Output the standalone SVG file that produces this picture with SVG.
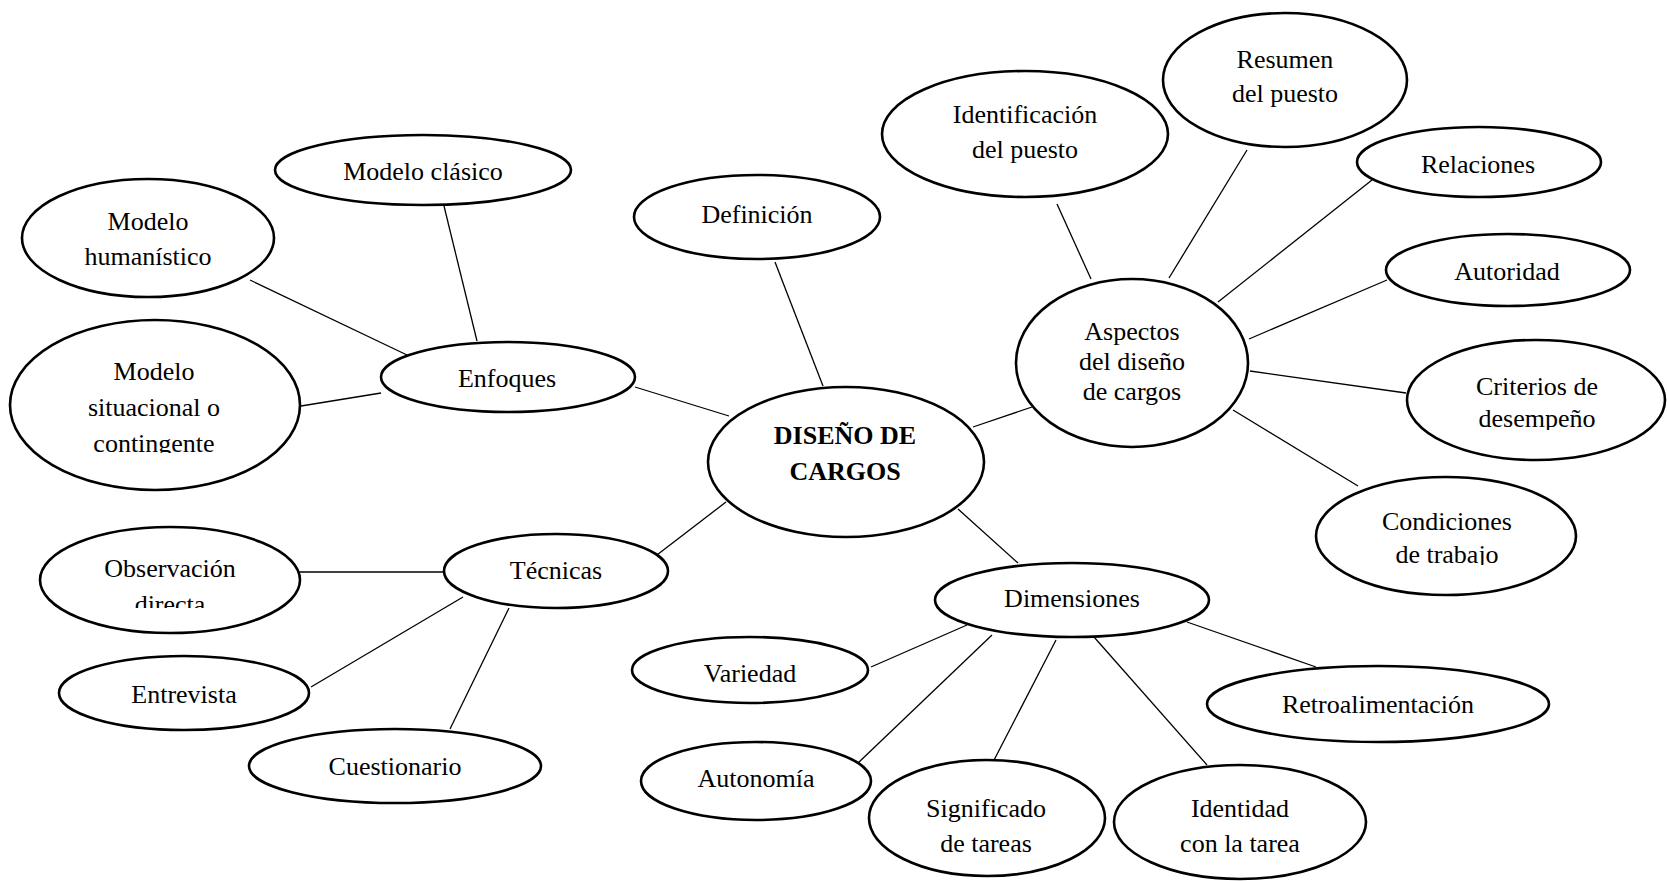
<svg xmlns="http://www.w3.org/2000/svg" width="1667" height="881" viewBox="0 0 1667 881">
  <style>
    .node { fill: #ffffff; stroke: #000000; stroke-width: 2.6; }
    .link { stroke: #000000; stroke-width: 1.3; fill: none; }
    text { font-family: "Liberation Serif", "Times New Roman", serif; font-size: 26px; fill: #000000; text-anchor: middle; }
    .title { font-weight: bold; }
  </style>
  <defs>
    <clipPath id="clip-contingente"><rect x="0" y="300" width="320" height="153"/></clipPath>
    <clipPath id="clip-directa"><rect x="30" y="520" width="280" height="88"/></clipPath>
    <clipPath id="clip-desempeno"><rect x="1400" y="340" width="267" height="90"/></clipPath>
    <clipPath id="clip-trabajo"><rect x="1310" y="470" width="280" height="95"/></clipPath>
    <clipPath id="clip-tareas"><rect x="860" y="760" width="260" height="94"/></clipPath>
  </defs>
  <rect x="0" y="0" width="1667" height="881" fill="#ffffff"/>

  <!-- connectors -->
  <g id="connectors">
    <line class="link" x1="823" y1="386" x2="775" y2="262"/>
    <line class="link" x1="729" y1="416" x2="635" y2="387"/>
    <line class="link" x1="726" y1="502" x2="653" y2="558"/>
    <line class="link" x1="973" y1="427" x2="1032" y2="407"/>
    <line class="link" x1="958" y1="509" x2="1018" y2="563"/>
    <line class="link" x1="444" y1="206" x2="477" y2="341"/>
    <line class="link" x1="250" y1="280" x2="407" y2="355"/>
    <line class="link" x1="301" y1="406" x2="381" y2="393"/>
    <line class="link" x1="299" y1="572" x2="443" y2="572"/>
    <line class="link" x1="463" y1="597" x2="311" y2="687"/>
    <line class="link" x1="509" y1="608" x2="450" y2="729"/>
    <line class="link" x1="1057" y1="204" x2="1091" y2="279"/>
    <line class="link" x1="1247" y1="150" x2="1169" y2="278"/>
    <line class="link" x1="1372" y1="180" x2="1218" y2="302"/>
    <line class="link" x1="1387" y1="280" x2="1249" y2="339"/>
    <line class="link" x1="1406" y1="393" x2="1250" y2="371"/>
    <line class="link" x1="1233" y1="410" x2="1358" y2="486"/>
    <line class="link" x1="967" y1="625" x2="871" y2="667"/>
    <line class="link" x1="992" y1="635" x2="858" y2="763"/>
    <line class="link" x1="1056" y1="640" x2="992" y2="764"/>
    <line class="link" x1="1094" y1="637" x2="1207" y2="765"/>
    <line class="link" x1="1187" y1="622" x2="1316" y2="667"/>
  </g>

  <!-- central node -->
  <g id="n-diseno">
    <ellipse class="node" cx="846" cy="462" rx="138" ry="75"/>
    <text class="title" x="845" y="444">DISEÑO DE</text>
    <text class="title" x="845" y="480">CARGOS</text>
  </g>

  <g id="n-definicion">
    <ellipse class="node" cx="757" cy="217" rx="123" ry="42"/>
    <text x="757" y="223">Definición</text>
  </g>

  <!-- Enfoques branch -->
  <g id="n-enfoques">
    <ellipse class="node" cx="508" cy="377" rx="127" ry="35"/>
    <text x="507" y="387">Enfoques</text>
  </g>
  <g id="n-clasico">
    <ellipse class="node" cx="423" cy="170" rx="148" ry="35"/>
    <text x="423" y="180">Modelo clásico</text>
  </g>
  <g id="n-humanistico">
    <ellipse class="node" cx="148" cy="238" rx="126" ry="59"/>
    <text x="148" y="230">Modelo</text>
    <text x="148" y="265">humanístico</text>
  </g>
  <g id="n-situacional">
    <ellipse class="node" cx="155" cy="405" rx="145" ry="85"/>
    <text x="154" y="380">Modelo</text>
    <text x="154" y="416">situacional o</text>
    <text x="154" y="452" clip-path="url(#clip-contingente)">contingente</text>
  </g>

  <!-- Técnicas branch -->
  <g id="n-tecnicas">
    <ellipse class="node" cx="556" cy="571" rx="112" ry="37"/>
    <text x="556" y="579">Técnicas</text>
  </g>
  <g id="n-observacion">
    <ellipse class="node" cx="170" cy="580" rx="130" ry="53"/>
    <text x="170" y="577">Observación</text>
    <text x="170" y="613" clip-path="url(#clip-directa)">directa</text>
  </g>
  <g id="n-entrevista">
    <ellipse class="node" cx="184" cy="693" rx="125" ry="37"/>
    <text x="184" y="703">Entrevista</text>
  </g>
  <g id="n-cuestionario">
    <ellipse class="node" cx="395" cy="766" rx="146" ry="37"/>
    <text x="395" y="775">Cuestionario</text>
  </g>

  <!-- Aspectos branch -->
  <g id="n-aspectos">
    <ellipse class="node" cx="1132" cy="363" rx="116" ry="84"/>
    <text x="1132" y="340">Aspectos</text>
    <text x="1132" y="370">del diseño</text>
    <text x="1132" y="400">de cargos</text>
  </g>
  <g id="n-identificacion">
    <ellipse class="node" cx="1025" cy="134" rx="143" ry="63"/>
    <text x="1025" y="123">Identificación</text>
    <text x="1025" y="158">del puesto</text>
  </g>
  <g id="n-resumen">
    <ellipse class="node" cx="1285" cy="80" rx="122" ry="67"/>
    <text x="1285" y="68">Resumen</text>
    <text x="1285" y="102">del puesto</text>
  </g>
  <g id="n-relaciones">
    <ellipse class="node" cx="1479" cy="162" rx="122" ry="35"/>
    <text x="1478" y="173">Relaciones</text>
  </g>
  <g id="n-autoridad">
    <ellipse class="node" cx="1508" cy="270" rx="122" ry="36"/>
    <text x="1507" y="280">Autoridad</text>
  </g>
  <g id="n-criterios">
    <ellipse class="node" cx="1536" cy="400" rx="129" ry="60"/>
    <text x="1537" y="395">Criterios de</text>
    <text x="1537" y="427" clip-path="url(#clip-desempeno)">desempeño</text>
  </g>
  <g id="n-condiciones">
    <ellipse class="node" cx="1446" cy="536" rx="130" ry="59"/>
    <text x="1447" y="530">Condiciones</text>
    <text x="1447" y="563" clip-path="url(#clip-trabajo)">de trabajo</text>
  </g>

  <!-- Dimensiones branch -->
  <g id="n-dimensiones">
    <ellipse class="node" cx="1072" cy="600" rx="137" ry="37"/>
    <text x="1072" y="607">Dimensiones</text>
  </g>
  <g id="n-variedad">
    <ellipse class="node" cx="750" cy="670" rx="118" ry="33"/>
    <text x="750" y="682">Variedad</text>
  </g>
  <g id="n-retroalimentacion">
    <ellipse class="node" cx="1378" cy="704" rx="171" ry="38"/>
    <text x="1378" y="713">Retroalimentación</text>
  </g>
  <g id="n-autonomia">
    <ellipse class="node" cx="756" cy="781" rx="115" ry="39"/>
    <text x="756" y="787">Autonomía</text>
  </g>
  <g id="n-significado">
    <ellipse class="node" cx="987" cy="818" rx="118" ry="58"/>
    <text x="986" y="817">Significado</text>
    <text x="986" y="852" clip-path="url(#clip-tareas)">de tareas</text>
  </g>
  <g id="n-identidad">
    <ellipse class="node" cx="1240" cy="822" rx="126" ry="57"/>
    <text x="1240" y="817">Identidad</text>
    <text x="1240" y="852">con la tarea</text>
  </g>
</svg>
